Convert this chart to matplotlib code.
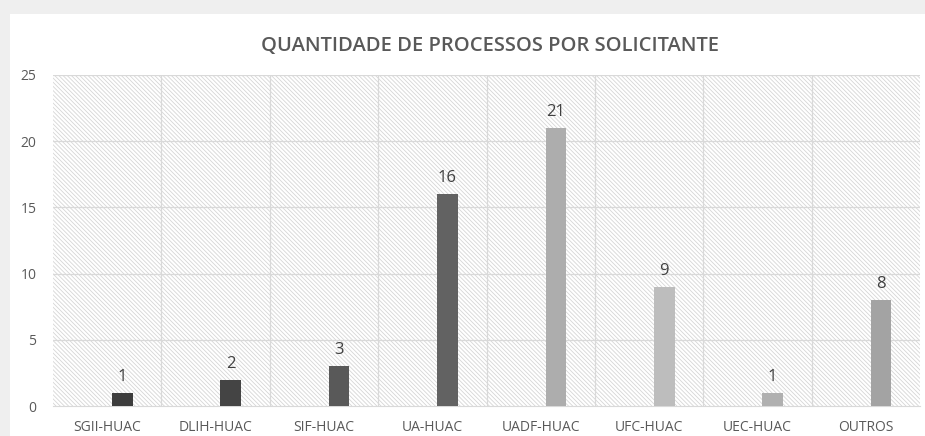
import matplotlib.pyplot as plt
import matplotlib.patches as mpatches
import numpy as np

plt.rcParams['font.family'] = ['Open Sans', 'DejaVu Sans']
plt.rcParams['hatch.linewidth'] = 0.6

# data
categories = ['SGII-HUAC', 'DLIH-HUAC', 'SIF-HUAC', 'UA-HUAC',
              'UADF-HUAC', 'UFC-HUAC', 'UEC-HUAC', 'OUTROS']
values = [1, 2, 3, 16, 21, 9, 1, 8]
bar_colors = ['#3d3d3d', '#444444', '#595959', '#626262',
              '#adadad', '#bdbdbd', '#b0b0b0', '#a3a3a3']

fig = plt.figure(figsize=(9.25, 4.36), dpi=100)
# light grey frame (shadow of the pasted chart) on top and left
fig.patches.append(mpatches.Rectangle((0, 0), 1, 1, transform=fig.transFigure,
                                      facecolor='#efefef', edgecolor='none', zorder=-2))
fig.patches.append(mpatches.Rectangle((0.011, 0), 1, 0.968, transform=fig.transFigure,
                                      facecolor='white', edgecolor='none', zorder=-1))

ax = fig.add_axes([0.0573, 0.0688, 0.9373, 0.7592])
x = np.arange(len(categories))

# hatched background
ax.add_patch(mpatches.Rectangle((0, 0), 1, 1, transform=ax.transAxes, facecolor='white',
                                edgecolor='#d6d6d6', hatch='\\' * 8, linewidth=0, zorder=0))

bars = ax.bar(x + 0.14, values, width=0.19, color=bar_colors, zorder=3)
for xi, v in zip(x, values):
    ax.text(xi + 0.14, v + 0.6, str(v), ha='center', va='bottom', fontsize=12, color='#404040', zorder=4)

ax.set_xlim(-0.5, len(categories) - 0.5)
ax.set_ylim(0, 25)
ax.set_yticks(range(0, 26, 5))
ax.set_xticks(x)
ax.set_xticklabels(categories)
ax.tick_params(axis='both', length=0, labelsize=10, labelcolor='#595959')
ax.tick_params(axis='x', pad=10)
ax.tick_params(axis='y', pad=12)

# grid lines
for yv in range(5, 26, 5):
    ax.axhline(yv, color='#d9d9d9', linewidth=0.9, zorder=1)
for b in np.arange(0.5, len(categories) - 0.5, 1):
    ax.axvline(b, color='#d9d9d9', linewidth=0.9, zorder=1)
for s in ['top', 'right', 'left']:
    ax.spines[s].set_visible(False)
ax.spines['bottom'].set_color('#d9d9d9')
ax.set_facecolor('white')

fig.text(0.53, 0.895, 'QUANTIDADE DE PROCESSOS POR SOLICITANTE', ha='center', va='center',
         fontsize=14.5, fontweight='semibold', color='#595959')

fig.savefig('out.png', dpi=100)
